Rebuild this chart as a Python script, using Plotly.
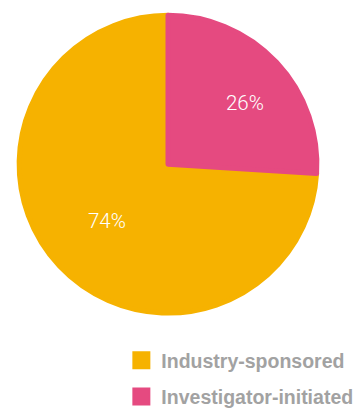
import math
import plotly.graph_objects as go

# Share of trials by sponsor type
labels = ["Industry-sponsored", "Investigator-initiated"]
values = [74, 26]
colors = ["#F6B200", "#E54A80"]

W, H = 358, 408

# Pie placement (paper fractions) and slice layout
dom_x = [0.0534, 0.8852]
dom_y = [0.2326, 0.9625]
rotation = 93.6              # degrees clockwise from 12 o'clock where the first slice starts
label_radius = [0.56, 0.66]  # percent label distance from centre, in pie radii
label_turn = [0.5, 4.5]      # small clockwise nudge of each label off the bisector, degrees

fig = go.Figure()

fig.add_trace(
    go.Pie(
        labels=labels,
        values=values,
        sort=False,
        direction="clockwise",
        rotation=rotation,
        marker=dict(colors=colors, line=dict(color=colors, width=5)),
        textinfo="none",
        domain=dict(x=dom_x, y=dom_y),
        hoverinfo="label+percent",
        showlegend=False,
    )
)

# Percent labels placed along each slice's bisector
cx = (dom_x[0] + dom_x[1]) / 2 * W
cy = (1 - (dom_y[0] + dom_y[1]) / 2) * H
r = min((dom_x[1] - dom_x[0]) * W, (dom_y[1] - dom_y[0]) * H) / 2
total = sum(values)
start = rotation
for v, f, t in zip(values, label_radius, label_turn):
    mid = math.radians(start + 360 * v / total / 2 + t)
    start += 360 * v / total
    px = cx + f * r * math.sin(mid)
    py = cy - f * r * math.cos(mid)
    fig.add_annotation(
        x=px / W, y=1 - py / H, xref="paper", yref="paper",
        text=f"{round(100 * v / total)}%", showarrow=False,
        font=dict(family="Roboto", size=20.5, color="white", weight=300),
        xanchor="center", yanchor="middle",
    )

# Legend entries (square swatches)
for name, c in zip(labels, colors):
    fig.add_trace(
        go.Scatter(
            x=[None], y=[None], mode="markers", name=name, legendgroup=name,
            marker=dict(symbol="square", size=16, color=c, line=dict(color=c, width=2)),
        )
    )

fig.update_layout(
    width=W,
    height=H,
    margin=dict(l=0, r=0, t=0, b=0, autoexpand=False),
    paper_bgcolor="white",
    plot_bgcolor="white",
    xaxis=dict(visible=False),
    yaxis=dict(visible=False),
    showlegend=True,
    legend=dict(
        x=0.339,
        y=0.164,
        xanchor="left",
        yanchor="top",
        tracegroupgap=8,
        itemsizing="trace",
        font=dict(family="Liberation Sans", size=19.5, color="#A2A2A2", weight="bold"),
        bgcolor="rgba(0,0,0,0)",
    ),
)

fig.write_html("out.html")
